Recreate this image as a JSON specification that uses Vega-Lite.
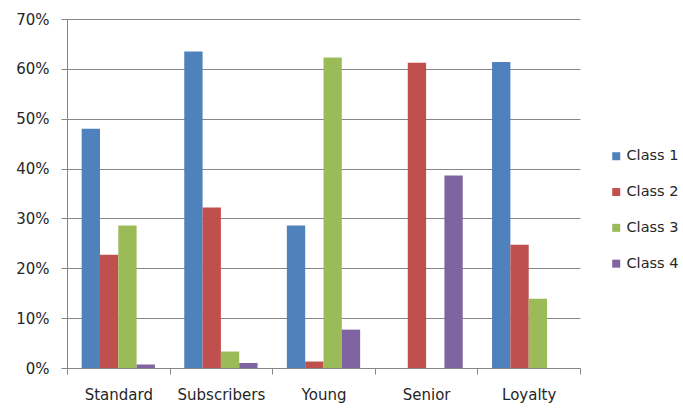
{
  "$schema": "https://vega.github.io/schema/vega-lite/v6.json",
  "width": 513,
  "height": 349,
  "autosize": {"type": "none"},
  "padding": {"left": 67, "top": 19, "right": 103, "bottom": 40},
  "background": "white",
  "data": {
    "values": [
      {"segment": "Standard", "class": "Class 1", "share": 0.480},
      {"segment": "Standard", "class": "Class 2", "share": 0.227},
      {"segment": "Standard", "class": "Class 3", "share": 0.286},
      {"segment": "Standard", "class": "Class 4", "share": 0.007},
      {"segment": "Subscribers", "class": "Class 1", "share": 0.635},
      {"segment": "Subscribers", "class": "Class 2", "share": 0.322},
      {"segment": "Subscribers", "class": "Class 3", "share": 0.033},
      {"segment": "Subscribers", "class": "Class 4", "share": 0.010},
      {"segment": "Young", "class": "Class 1", "share": 0.286},
      {"segment": "Young", "class": "Class 2", "share": 0.013},
      {"segment": "Young", "class": "Class 3", "share": 0.623},
      {"segment": "Young", "class": "Class 4", "share": 0.077},
      {"segment": "Senior", "class": "Class 1", "share": 0.0},
      {"segment": "Senior", "class": "Class 2", "share": 0.612},
      {"segment": "Senior", "class": "Class 3", "share": 0.0},
      {"segment": "Senior", "class": "Class 4", "share": 0.386},
      {"segment": "Loyalty", "class": "Class 1", "share": 0.614},
      {"segment": "Loyalty", "class": "Class 2", "share": 0.247},
      {"segment": "Loyalty", "class": "Class 3", "share": 0.139},
      {"segment": "Loyalty", "class": "Class 4", "share": 0.0}
    ]
  },
  "mark": {"type": "bar", "cornerRadius": 0},
  "encoding": {
    "x": {
      "field": "segment",
      "type": "nominal",
      "sort": ["Standard", "Subscribers", "Young", "Senior", "Loyalty"],
      "scale": {"paddingInner": 0, "paddingOuter": 0},
      "axis": {
        "title": null,
        "labelAngle": 0,
        "tickBand": "extent",
        "tickSize": 6,
        "tickColor": "#868686",
        "domainColor": "#868686",
        "labelPadding": 13,
        "labelFont": "DejaVu Sans",
        "labelFontSize": 15,
        "labelColor": "#262626",
        "grid": false
      }
    },
    "xOffset": {
      "field": "class",
      "type": "nominal",
      "sort": ["Class 1", "Class 2", "Class 3", "Class 4"],
      "scale": {"paddingInner": 0, "paddingOuter": 0.8}
    },
    "y": {
      "field": "share",
      "type": "quantitative",
      "scale": {"domain": [0, 0.7], "nice": false},
      "axis": {
        "title": null,
        "format": ".0%",
        "values": [0, 0.1, 0.2, 0.3, 0.4, 0.5, 0.6, 0.7],
        "grid": true,
        "gridColor": "#868686",
        "gridOpacity": 1,
        "tickSize": 6,
        "tickColor": "#868686",
        "domainColor": "#868686",
        "labelPadding": 12,
        "labelFont": "DejaVu Sans",
        "labelFontSize": 15,
        "labelColor": "#262626"
      }
    },
    "color": {
      "field": "class",
      "type": "nominal",
      "sort": ["Class 1", "Class 2", "Class 3", "Class 4"],
      "scale": {
        "domain": ["Class 1", "Class 2", "Class 3", "Class 4"],
        "range": ["#4F81BD", "#C0504D", "#9BBB59", "#8064A2"]
      },
      "legend": {
        "title": null,
        "orient": "none",
        "legendX": 542,
        "legendY": 130,
        "padding": 0,
        "symbolType": "square",
        "symbolSize": 64,
        "symbolStrokeWidth": 0,
        "labelOffset": 3,
        "rowPadding": 20.8,
        "labelFont": "DejaVu Sans",
        "labelFontSize": 14.5,
        "labelColor": "#262626"
      }
    }
  },
  "config": {
    "view": {"stroke": null}
  }
}
